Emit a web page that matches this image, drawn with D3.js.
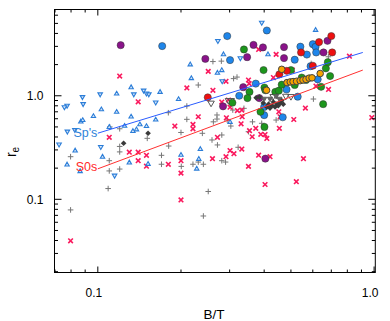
<!DOCTYPE html>
<html><head><meta charset="utf-8">
<script src="https://cdn.jsdelivr.net/npm/d3@7"></script>
<style>body{margin:0;background:#fff}svg{display:block}text{font-family:"Liberation Sans",Arial,sans-serif}</style>
</head><body>
<script>
// ---- data: [B/T, r_e] ----
const xTicks=[0.1,1.0], xTickLabels=["0.1","1.0"];
const yTicks=[0.1,1.0], yTickLabels=["0.1","1.0"];
const xDomain=[0.0697,1.01], yDomain=[0.01964,6.81];

const circPurple=[[0.121,3.08],[0.245,2.27],[0.347,2.36],[0.366,3.10],[0.396,2.93],[0.472,2.95],[0.472,2.31],[0.336,1.21],[0.284,0.79],[0.384,0.95],[0.404,0.247],[0.656,2.62],[0.678,3.39]];
const circBlue=[[0.171,3.02],[0.294,3.77],[0.409,4.27],[0.301,2.21],[0.373,1.31],[0.325,1.0],[0.40,0.78],[0.40,0.65],[0.467,0.62],[0.482,1.15],[0.529,0.98],[0.516,2.23],[0.541,2.98],[0.571,2.50],[0.60,3.15],[0.614,2.97],[0.617,2.62],[0.589,1.93],[0.625,1.44]];
const circRed=[[0.25,0.965],[0.454,1.61],[0.483,1.74],[0.544,2.62],[0.60,1.95],[0.632,3.30],[0.70,3.77],[0.705,2.62]];
const circGreen=[[0.338,2.80],[0.398,1.77],[0.401,1.20],[0.404,1.13],[0.354,1.09],[0.348,0.95],[0.307,0.856],[0.388,0.70],[0.401,0.50],[0.439,1.09],[0.452,1.12],[0.463,1.28],[0.50,1.77],[0.516,1.27],[0.547,1.50],[0.567,1.42],[0.643,1.22],[0.654,0.83],[0.669,1.84],[0.68,2.11],[0.693,1.55]];
const circOrange=[[0.463,1.80],[0.638,1.64],[0.408,1.13],[0.484,1.34],[0.497,1.36],[0.509,1.37],[0.524,1.38],[0.54,1.40],[0.553,1.42],[0.567,1.44],[0.582,1.48],[0.596,1.49]];
const darkDiamonds=[[0.124,0.348],[0.152,0.434],[0.374,0.956],[0.385,0.97],[0.397,0.85],[0.409,0.78],[0.415,0.83],[0.42,0.76],[0.427,0.80],[0.432,0.87],[0.438,0.78],[0.445,0.83],[0.45,0.80],[0.457,0.85],[0.463,0.90],[0.469,0.83]];
const darkDownTri=[[0.40,0.93],[0.42,0.93],[0.442,0.99],[0.454,0.93]];
const grayOpenTri=[[0.257,0.845],[0.297,0.895],[0.304,0.895],[0.479,0.985],[0.50,0.978],[0.431,0.978]];
const grayPlus=[[0.0797,0.258],[0.0797,0.079],[0.1105,0.50],[0.12,0.48],[0.12,0.324],[0.12,0.287],[0.11,0.236],[0.11,0.188],[0.12,0.196],[0.109,0.127],[0.151,0.388],[0.17,0.266],[0.17,0.218],[0.18,0.686],[0.1805,0.327],[0.20,0.442],[0.2005,0.208],[0.21,0.796],[0.21,0.592],[0.221,0.218],[0.231,0.229],[0.241,0.218],[0.231,1.27],[0.239,0.434],[0.251,0.119],[0.241,0.069],[0.261,2.14],[0.28,2.16],[0.259,0.374],[0.271,0.335],[0.281,0.418],[0.27,0.652],[0.27,0.596],[0.262,0.56],[0.281,0.236],[0.29,0.229],[0.31,1.465],[0.319,1.515],[0.322,0.318],[0.351,0.45],[0.363,0.56],[0.442,0.583],[0.603,0.93],[0.592,2.05],[0.683,2.38],[0.294,0.583],[0.308,0.728],[0.303,0.51],[0.338,0.756],[0.392,0.542]];
const pinkX=[[0.0797,0.0397],[0.110,0.397],[0.12,1.55],[0.14,0.875],[0.13,0.285],[0.14,0.285],[0.14,0.236],[0.15,0.266],[0.15,0.209],[0.18,0.218],[0.19,0.51],[0.20,0.236],[0.20,0.179],[0.20,0.0987],[0.21,1.19],[0.221,0.528],[0.221,0.48],[0.231,0.627],[0.251,1.72],[0.261,1.13],[0.26,0.247],[0.271,0.397],[0.281,0.87],[0.291,1.38],[0.291,0.258],[0.292,0.612],[0.297,0.91],[0.301,0.775],[0.301,0.296],[0.311,0.276],[0.32,0.72],[0.332,0.728],[0.333,0.627],[0.33,0.536],[0.332,0.306],[0.351,1.42],[0.353,1.31],[0.351,0.208],[0.354,0.46],[0.362,0.402],[0.373,0.485],[0.382,2.80],[0.382,0.267],[0.389,0.424],[0.403,0.422],[0.409,0.387],[0.403,0.139],[0.42,0.258],[0.432,1.50],[0.442,2.51],[0.452,0.70],[0.454,0.485],[0.457,0.627],[0.506,1.77],[0.512,0.59],[0.523,0.148],[0.555,0.247],[0.564,0.76],[0.616,1.24],[0.684,1.15],[0.814,2.41],[0.981,0.616]];
const blueUpTri=[[0.132,1.21],[0.117,1.05],[0.168,1.09],[0.196,0.93],[0.216,2.01],[0.218,1.48],[0.271,1.67],[0.281,1.77],[0.285,2.52],[0.103,0.74],[0.117,0.70],[0.0964,0.637],[0.132,0.63],[0.0868,0.564],[0.0882,0.583],[0.110,0.50],[0.125,0.513],[0.142,0.53],[0.162,0.589],[0.138,0.474],[0.134,0.457],[0.15,0.51],[0.0828,0.296],[0.0774,0.217],[0.0863,0.187],[0.104,0.258],[0.13,0.227],[0.152,0.22],[0.20,0.269],[0.232,0.246],[0.228,0.198],[0.235,0.306],[0.614,4.33],[0.301,0.56],[0.413,2.52]];
const blueDownTri=[[0.102,1.03],[0.088,0.97],[0.1465,1.12],[0.150,1.05],[0.153,1.03],[0.135,1.03],[0.162,0.86],[0.0885,0.83],[0.0774,0.80],[0.0757,0.773],[0.0776,0.45],[0.0826,0.467],[0.1025,0.32],[0.115,0.169],[0.0724,0.338],[0.392,5.06],[0.272,3.38],[0.328,2.30],[0.282,1.38]];
const fitSp=[[0.1,0.435],[0.91,2.62]];
const fitS0=[[0.1,0.197],[0.91,1.77]];
const fitLabels=["Sp's","S0s"];

// ---- drawing ----
const W=390,H=321;
const svg=d3.select("body").append("svg").attr("width",W).attr("height",H);
const x=d3.scaleLog().domain(xDomain).range([54.5,375.3]);
const y=d3.scaleLog().domain(yDomain).range([272.5,9.5]);
const L=54.5,R=375.3,T=9.5,B=272.5;

const g=svg.append("g");
function plus(sel,data,col){sel.append("g").selectAll("path").data(data).join("path")
  .attr("d",d=>{const cx=x(d[0]),cy=y(d[1]),s=2.8;return `M${cx-s},${cy}H${cx+s}M${cx},${cy-s}V${cy+s}`;})
  .attr("stroke",col).attr("stroke-width",1).attr("fill","none");}
function cross(sel,data,col){sel.append("g").selectAll("path").data(data).join("path")
  .attr("d",d=>{const cx=x(d[0]),cy=y(d[1]),s=2.3;return `M${cx-s},${cy-s}L${cx+s},${cy+s}M${cx-s},${cy+s}L${cx+s},${cy-s}`;})
  .attr("stroke",col).attr("stroke-width",1.6).attr("fill","none");}
function tri(sel,data,col,fill,up,s,sw){sel.append("g").selectAll("path").data(data).join("path")
  .attr("d",d=>{const cx=x(d[0]),cy=y(d[1]);const k=up?1:-1;
     return `M${cx},${cy-k*s}L${cx+s*0.95},${cy+k*s*0.65}L${cx-s*0.95},${cy+k*s*0.65}Z`;})
  .attr("stroke",col).attr("stroke-width",sw).attr("fill",fill);}
function diamond(sel,data,col){sel.append("g").selectAll("path").data(data).join("path")
  .attr("d",d=>{const cx=x(d[0]),cy=y(d[1]),s=2.8;return `M${cx},${cy-s}L${cx+s},${cy}L${cx},${cy+s}L${cx-s},${cy}Z`;})
  .attr("fill",col).attr("stroke","none");}
function circ(sel,data,col,stroke,sw,r){sel.append("g").selectAll("circle").data(data).join("circle")
  .attr("cx",d=>x(d[0])).attr("cy",d=>y(d[1])).attr("r",r)
  .attr("fill",col).attr("stroke",stroke).attr("stroke-width",sw);}

plus(g,grayPlus,"#777");
cross(g,pinkX,"#fa1a5e");
tri(g,blueUpTri,"#2b7dd8","#d6e6f8",true,2.3,1.1);
tri(g,blueDownTri,"#2b7dd8","#d6e6f8",false,2.4,1.1);
tri(g,grayOpenTri,"#555","none",false,3.4,1);
circ(g,circBlue,"#1f86ea","#333",0.5,3.6);
circ(g,circPurple,"#8a138a","#333",0.5,3.6);
circ(g,circGreen,"#1c961c","#333",0.5,3.6);
circ(g,circRed,"#ee1010","#333",0.5,3.6);
circ(g,circOrange,"#f5a300","#444",1,3.3);
diamond(g,darkDiamonds,"#3a3a3a");
tri(g,darkDownTri,"#555","#666",false,2.8,0.8);

const line=d3.line().x(d=>x(d[0])).y(d=>y(d[1]));
g.append("path").attr("d",line(fitSp)).attr("stroke","#2a5cff").attr("stroke-width",1).attr("fill","none");
g.append("path").attr("d",line(fitS0)).attr("stroke","#ff3030").attr("stroke-width",1).attr("fill","none");
svg.append("text").attr("x",x(fitSp[0][0])-0.5).attr("y",y(fitSp[0][1])+4).attr("text-anchor","end")
  .attr("font-size",12.5).attr("fill","#2f83d9").text(fitLabels[0]);
svg.append("text").attr("x",x(fitS0[0][0])-0.5).attr("y",y(fitS0[0][1])+2.5).attr("text-anchor","end")
  .attr("font-size",12.5).attr("fill","#ff2a2a").text(fitLabels[1]);

const ax=svg.append("g").attr("stroke","#000").attr("stroke-width",1);
ax.append("rect").attr("x",L).attr("y",T).attr("width",R-L).attr("height",B-T).attr("fill","none");
x.ticks().forEach(v=>{const px=x(v);if(px<L+0.5||px>R-0.2)return;const major=xTicks.some(t=>Math.abs(t-v)<1e-9);const len=major?6:3;
  ax.append("line").attr("x1",px).attr("x2",px).attr("y1",B).attr("y2",B-len);
  ax.append("line").attr("x1",px).attr("x2",px).attr("y1",T).attr("y2",T+len);});
y.ticks().forEach(v=>{const py=y(v);if(py<T+0.5||py>B-0.5)return;const major=yTicks.some(t=>Math.abs(t-v)<1e-9);const len=major?7:3.5;
  ax.append("line").attr("x1",L).attr("x2",L+len).attr("y1",py).attr("y2",py);
  ax.append("line").attr("x1",R).attr("x2",R-len).attr("y1",py).attr("y2",py);});

xTicks.forEach((v,i)=>svg.append("text").attr("x",x(v)-4).attr("y",296.5).attr("text-anchor","middle")
  .attr("font-size",12).attr("fill","#000").text(xTickLabels[i]));
yTicks.forEach((v,i)=>svg.append("text").attr("x",43.5).attr("y",y(v)+4.3).attr("text-anchor","end")
  .attr("font-size",12).attr("fill","#000").text(yTickLabels[i]));
svg.append("text").attr("x",214).attr("y",319).attr("text-anchor","middle").attr("font-size",13.5).attr("fill","#000").text("B/T");
const yt=svg.append("text").attr("transform","translate(16,152) rotate(-90)").attr("text-anchor","middle").attr("font-size",14).attr("fill","#000");
yt.append("tspan").text("r");
yt.append("tspan").attr("font-size",10).attr("dy",3).text("e");
</script>
</body></html>
